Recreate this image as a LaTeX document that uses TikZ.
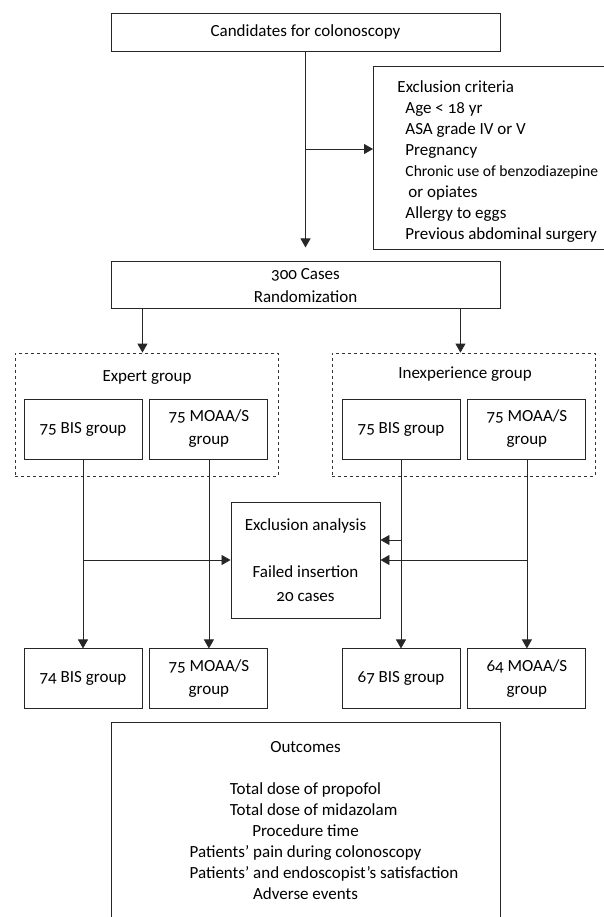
\documentclass[tikz,border=0pt]{standalone}
\usepackage{fontspec}
\setmainfont{Carlito}[Numbers=OldStyle]
\usetikzlibrary{arrows.meta,positioning,calc}

\begin{document}
\begin{tikzpicture}[
    x=1pt, y=-1pt,
    font=\fontsize{17}{21}\selectfont,
    box/.style    = {rectangle, draw=black!85, line width=0.9pt,
                     inner sep=0pt, align=center},
    wbox/.style   = {box, minimum width=389pt},
    gbox/.style   = {box, minimum width=118pt, minimum height=60pt},
    grp/.style    = {rectangle, draw=black!80, dashed, line width=0.8pt,
                     minimum width=263pt, minimum height=123pt, inner sep=0pt},
    crit/.style   = {box, anchor=north west, align=flush left,
                     minimum height=183pt, text width=250pt, inner xsep=24pt},
    arr/.style    = {-{Triangle[width=10pt,length=9pt]}, line width=0.8pt, black!85},
]
\useasboundingbox (0,0) rectangle (603,917);

% ─── Enrollment ──────────────────────────────────────────────────────────
\node[wbox, minimum height=38pt] (cand) at (305.5,32)
    {Candidates for colonoscopy};

\node[crit] (excl) at (373,66)
    {\rule{0pt}{19pt}Exclusion criteria\\
     \hspace*{8pt}Age < 18 yr\\
     \hspace*{8pt}ASA grade IV or V\\
     \hspace*{8pt}Pregnancy\\
     \hspace*{8pt}{\fontsize{15.6}{21}\selectfont Chronic use of benzodiazepine}\\
     \hspace*{11pt}or opiates\\
     \hspace*{8pt}Allergy to eggs\\
     \hspace*{8pt}Previous abdominal surgery};

\node[wbox, minimum height=47pt, below=210pt of cand] (rand)
    {300 Cases\\[2pt] Randomization};

\coordinate (split) at (305.5,149);
\draw[arr, shorten >=14pt] (cand) -- (rand);
\draw[arr] (split) -- (split -| excl.west);

% ─── Allocation ──────────────────────────────────────────────────────────
\node[grp] (expert) at (146.5,414.5) {};
\node (experttitle) at (147,378) {Expert group};
\node[gbox] (ebis) at (83,429) {75 BIS group};
\node[gbox, right=7pt of ebis] (emoaa) {75 MOAA/S\\[2pt] group};

\node[grp] (inexp) at (463.5,414.5) {};
\node (inexptitle) at (465,374) {Inexperience group};
\node[gbox] (ibis) at (401,429) {75 BIS group};
\node[gbox, right=7pt of ibis] (imoaa) {75 MOAA/S\\[2pt] group};

\draw[arr] (rand.south -| ebis.east) -- (expert.north -| ebis.east);
\draw[arr] (rand.south -| ibis.east) -- (inexp.north -| ibis.east);

% ─── Exclusion analysis ──────────────────────────────────────────────────
\node[box, minimum width=149pt, minimum height=116pt] (exan) at (305.5,560)
    {Exclusion analysis\\[26pt] Failed insertion\\[3pt] 20 cases};
\coordinate (exanhi) at ($(exan.east)+(0,-20)$);

% ─── Analysis ────────────────────────────────────────────────────────────
\node[gbox, below=189pt of ebis] (ebisout) {74 BIS group};
\node[gbox, below=189pt of emoaa] (emoaaout) {75 MOAA/S\\[2pt] group};
\node[gbox, below=189pt of ibis] (ibisout) {67 BIS group};
\node[gbox, below=189pt of imoaa] (imoaaout) {64 MOAA/S\\[2pt] group};

\draw[arr] (ebis) -- (ebisout);
\draw[arr] (emoaa) -- (emoaaout);
\draw[arr] (ibis) -- (ibisout);
\draw[arr] (imoaa) -- (imoaaout);

\draw[arr] (ebis.south |- exan.west) -- (exan.west);
\draw[arr] (imoaa.south |- exan.east) -- (exan.east);
\draw[arr] (ibis.south |- exanhi) -- (exanhi);

% Outcomes
\node[wbox, anchor=north, minimum height=197pt] (outc) at (305.5,722)
    {Outcomes\\[21pt]
     Total dose of propofol\\
     \rlap{Total dose of midazolam}\phantom{Total dose of propofol}\\
     Procedure time\\
     Patients' pain during colonoscopy\\
     \rlap{Patients' and endoscopist's satisfaction}\phantom{Patients' pain during colonoscopy}\\
     Adverse events};

\end{tikzpicture}
\end{document}
